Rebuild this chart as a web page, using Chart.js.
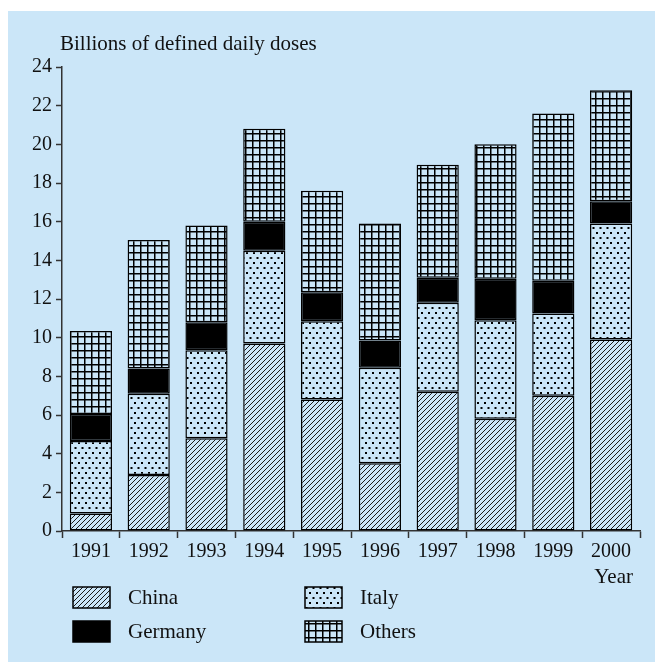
<!DOCTYPE html>
<html>
<head>
<meta charset="utf-8">
<script src="https://cdn.jsdelivr.net/npm/chart.js@4/dist/chart.umd.min.js"></script>
<style>
  html, body { margin: 0; padding: 0; background: #ffffff; }
  #wrap { width: 655px; height: 662px; }
</style>
</head>
<body>
<div id="wrap"><canvas id="grafico" width="655" height="662"></canvas></div>
<script>
const anos = ["1991", "1992", "1993", "1994", "1995", "1996", "1997", "1998", "1999", "2000"];
const china = [0.9, 2.9, 4.8, 9.7, 6.8, 3.5, 7.2, 5.8, 7.0, 9.9];
const italy = [3.75, 4.2, 4.55, 4.8, 4.05, 4.95, 4.6, 5.1, 4.25, 6.0];
const germany = [1.4, 1.3, 1.45, 1.5, 1.5, 1.4, 1.3, 2.15, 1.7, 1.15];
const others = [4.3, 6.65, 5.0, 4.8, 5.25, 6.05, 5.85, 6.95, 8.65, 5.75];
const yTicks = [0, 2, 4, 6, 8, 10, 12, 14, 16, 18, 20, 22, 24];

const FUNDO = "#cbe6f8";
const FONTE = "'Liberation Serif', 'DejaVu Serif', serif";

// padroes de preenchimento (hachura, pontos, grade)
function padrao(tipo) {
  const c = document.createElement("canvas");
  const ctx = c.getContext("2d");
  if (tipo === "hachura") {
    c.width = 5; c.height = 5;
    ctx.fillStyle = FUNDO;
    ctx.fillRect(0, 0, 5, 5);
    ctx.strokeStyle = "#1a1a1a";
    ctx.lineWidth = 1;
    ctx.beginPath();
    ctx.moveTo(-1, 6); ctx.lineTo(6, -1);
    ctx.moveTo(-1, 1); ctx.lineTo(1, -1);
    ctx.moveTo(4, 6); ctx.lineTo(6, 4);
    ctx.stroke();
  } else if (tipo === "pontos") {
    c.width = 7; c.height = 10;
    ctx.fillStyle = FUNDO;
    ctx.fillRect(0, 0, 7, 10);
    ctx.fillStyle = "#000";
    ctx.fillRect(1, 2, 2, 2);
    ctx.fillRect(4.5, 7, 2, 2);
  } else {
    c.width = 7; c.height = 7;
    ctx.fillStyle = FUNDO;
    ctx.fillRect(0, 0, 7, 7);
    ctx.fillStyle = "#000";
    ctx.fillRect(0, 0, 7, 1.5);
    ctx.fillRect(0, 0, 1.5, 7);
  }
  return document.createElement("canvas").getContext("2d").createPattern(c, "repeat");
}

const pChina = padrao("hachura");
const pItaly = padrao("pontos");
const pOthers = padrao("grade");

const fundoPlugin = {
  id: "fundo",
  beforeDraw(chart) {
    const ctx = chart.ctx;
    ctx.save();
    ctx.fillStyle = FUNDO;
    ctx.fillRect(8, 11, chart.width - 8, chart.height - 11);
    ctx.restore();
  }
};

const textosPlugin = {
  id: "textos",
  afterDraw(chart) {
    const ctx = chart.ctx;
    ctx.save();
    ctx.fillStyle = "#111";
    ctx.font = "21px " + FONTE;
    ctx.textBaseline = "middle";
    ctx.textAlign = "left";
    ctx.fillText("Billions of defined daily doses", 60, 44);
    ctx.textAlign = "right";
    ctx.fillText("Year", 633, 577);

    // legenda 2x2
    const posicoes = [[73, 587], [305, 587], [73, 621], [305, 621]];
    chart.data.datasets.forEach((ds, i) => {
      const [x, y] = posicoes[i];
      ctx.fillStyle = ds.backgroundColor;
      ctx.fillRect(x, y, 37, 21);
      ctx.strokeStyle = "#000";
      ctx.lineWidth = 1.5;
      ctx.strokeRect(x, y, 37, 21);
      ctx.fillStyle = "#111";
      ctx.textAlign = "left";
      ctx.fillText(ds.label, x + 55, y + 11);
    });
    ctx.restore();
  }
};

function serie(label, data, cor) {
  return {
    label,
    data,
    backgroundColor: cor,
    borderColor: "#000",
    borderWidth: 1.5,
    borderSkipped: false,
    barPercentage: 0.73,
    categoryPercentage: 1
  };
}

new Chart(document.getElementById("grafico"), {
  type: "bar",
  data: {
    labels: anos,
    datasets: [
      serie("China", china, pChina),
      serie("Italy", italy, pItaly),
      serie("Germany", germany, "#000"),
      serie("Others", others, pOthers)
    ]
  },
  options: {
    responsive: false,
    animation: false,
    layout: { padding: { top: 67, right: 15, left: 0, bottom: 0 } },
    plugins: {
      legend: { display: false },
      tooltip: { enabled: false },
      title: { display: false }
    },
    scales: {
      x: {
        stacked: true,
        grid: { drawOnChartArea: false, drawTicks: true, tickLength: 7, tickWidth: 1.5, tickColor: "#333", offset: true },
        border: { color: "#333", width: 1.5 },
        ticks: { color: "#111", font: { family: FONTE, size: 20 }, padding: 2, maxRotation: 0 },
        afterFit(scale) { scale.height = 131; }
      },
      y: {
        stacked: true,
        min: 0,
        max: 24,
        afterBuildTicks(scale) { scale.ticks = yTicks.map((v) => ({ value: v })); },
        grid: { drawOnChartArea: false, drawTicks: true, tickLength: 6, tickWidth: 1.5, tickColor: "#333" },
        border: { color: "#333", width: 1.5 },
        ticks: { color: "#111", font: { family: FONTE, size: 20 }, padding: 4 },
        afterFit(scale) { scale.width = 62; }
      }
    }
  },
  plugins: [fundoPlugin, textosPlugin]
});
</script>
</body>
</html>
